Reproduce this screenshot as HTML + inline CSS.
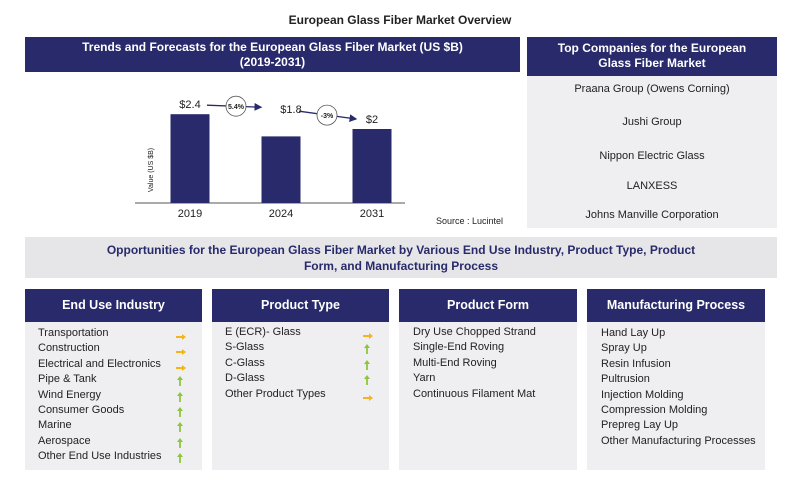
<!DOCTYPE html>
<html><head><meta charset="utf-8"><style>
body{margin:0;width:800px;height:493px;background:#fff;font-family:"Liberation Sans",sans-serif;position:relative;overflow:hidden}
.a{position:absolute}
.hd{background:#282a6b;color:#fff;font-weight:bold;text-align:center;box-sizing:border-box}
.gr{background:#efeff2}
.it{position:absolute;font-size:11px;color:#222;line-height:15.4px}
.ar{position:absolute}
</style></head><body>
<div class="a" style="left:0;width:800px;top:13px;text-align:center;font-size:12px;font-weight:bold;color:#222">European Glass Fiber Market Overview</div>

<div class="a hd" style="left:25px;top:37px;width:495px;height:35px;font-size:12px;padding-top:3px;line-height:15px">Trends and Forecasts for the European Glass Fiber Market (US $B)<br>(2019-2031)</div>

<svg class="a" id="chart" style="left:0;top:0" width="520" height="235"></svg>
<div class="a" style="left:436px;top:216px;font-size:9px;color:#222">Source : Lucintel</div>

<div class="a gr" style="left:527px;top:37px;width:250px;height:191px"></div>
<div class="a hd" style="left:527px;top:37px;width:250px;height:39px;font-size:12px;padding-top:4px;line-height:15px">Top Companies for the European<br>Glass Fiber Market</div>
<div class="a" style="left:527px;width:250px;top:83px;text-align:center;font-size:11px;color:#222">
<div style="height:33px">Praana Group (Owens Corning)</div>
<div style="height:34px">Jushi Group</div>
<div style="height:30px">Nippon Electric Glass</div>
<div style="height:29px">LANXESS</div>
<div>Johns Manville Corporation</div>
</div>

<div class="a gr" style="left:25px;top:237px;width:752px;height:41px;background:#e6e6e9;text-align:center;font-size:12px;font-weight:bold;color:#282a6b;line-height:16px;padding-top:5px;box-sizing:border-box">Opportunities for the European Glass Fiber Market by Various End Use Industry, Product Type, Product<br>Form, and Manufacturing Process</div>

<div class="a gr" style="left:25px;top:289px;width:177px;height:181px"></div>
<div class="a hd" style="left:25px;top:289px;width:177px;height:33px;font-size:12.5px;line-height:33px">End Use Industry</div>
<div class="a gr" style="left:212px;top:289px;width:177px;height:181px"></div>
<div class="a hd" style="left:212px;top:289px;width:177px;height:33px;font-size:12.5px;line-height:33px">Product Type</div>
<div class="a gr" style="left:399px;top:289px;width:178px;height:181px"></div>
<div class="a hd" style="left:399px;top:289px;width:178px;height:33px;font-size:12.5px;line-height:33px">Product Form</div>
<div class="a gr" style="left:587px;top:289px;width:178px;height:181px"></div>
<div class="a hd" style="left:587px;top:289px;width:178px;height:33px;font-size:12.5px;line-height:33px">Manufacturing Process</div>

<div id="lists"></div>

<script>
const years=["2019","2024","2031"];
const values=[2.4,1.8,2.0];
const valueLabels=["$2.4","$1.8","$2"];
const cagrLabels=["5.4%","-3%"];

const svg=document.getElementById('chart');
const NS='http://www.w3.org/2000/svg';
const base=203, xs=[190,281,372], bw=39;
function y(v){return base-v*37;}
function mk(t,a){const e=document.createElementNS(NS,t);for(const k in a)e.setAttribute(k,a[k]);svg.appendChild(e);return e;}
mk('defs',{}).innerHTML='<marker id="ah" markerWidth="6" markerHeight="6" refX="5" refY="3" orient="auto"><path d="M0,0L6,3L0,6z" fill="#282a6b"/></marker>';
let ax=mk('line',{x1:135,y1:base,x2:405,y2:base,stroke:'#555','stroke-width':1});


let yt=mk('text',{x:0,y:0,'font-size':7,fill:'#222','text-anchor':'middle',transform:'translate(153,170) rotate(-90)'});
yt.textContent='Value (US $B)';


const tops=[];
years.forEach((yr,i)=>{
  const t=y(values[i]);tops.push(t);
  let r=mk('rect',{x:xs[i]-bw/2,y:t,width:bw,height:base-t,fill:'#282a6b'});
  
  
  let l=mk('text',{x:xs[i],y:base+14,'font-size':11,fill:'#222','text-anchor':'middle'});
  l.textContent=yr;
  
  
});
let v0=mk('text',{x:xs[0],y:tops[0]-6,'font-size':11,fill:'#222','text-anchor':'middle'});v0.textContent=valueLabels[0];


let v1=mk('text',{x:xs[1]+10,y:tops[0]-1,'font-size':11,fill:'#222','text-anchor':'middle'});v1.textContent=valueLabels[1];


let v2=mk('text',{x:xs[2],y:tops[2]-6,'font-size':11,fill:'#222','text-anchor':'middle'});v2.textContent=valueLabels[2];


let a1y=tops[0]-9;
let a1=mk('line',{x1:xs[0]+17,y1:a1y,x2:xs[1]-20,y2:a1y+2,stroke:'#282a6b','stroke-width':1.3,'marker-end':'url(#ah)'});


mk('circle',{cx:236,cy:a1y+1,r:10,fill:'#fff',stroke:'#555','stroke-width':0.8});
let c1=mk('text',{x:236,y:a1y+4,'font-size':7,'font-weight':'bold',fill:'#222','text-anchor':'middle'});c1.textContent=cagrLabels[0];


const a2y1=tops[0]-3, a2y2=tops[2]-10;
let a2=mk('line',{x1:xs[1]+18,y1:a2y1,x2:xs[2]-16,y2:a2y2,stroke:'#282a6b','stroke-width':1.3,'marker-end':'url(#ah)'});


mk('circle',{cx:327,cy:(a2y1+a2y2)/2,r:10,fill:'#fff',stroke:'#555','stroke-width':0.8});
let c2=mk('text',{x:327,y:(a2y1+a2y2)/2+3,'font-size':7,'font-weight':'bold',fill:'#222','text-anchor':'middle'});c2.textContent=cagrLabels[1];



const cols=[
 {x:38,ax:175,items:[["Transportation","o"],["Construction","o"],["Electrical and Electronics","o"],["Pipe & Tank","g"],["Wind Energy","g"],["Consumer Goods","g"],["Marine","g"],["Aerospace","g"],["Other End Use Industries","g"]],top:326},
 {x:225,ax:362,items:[["E (ECR)- Glass","o"],["S-Glass","g"],["C-Glass","g"],["D-Glass","g"],["Other Product Types","o"]],top:325},
 {x:413,items:[["Dry Use Chopped Strand"],["Single-End Roving"],["Multi-End Roving"],["Yarn"],["Continuous Filament Mat"]],top:325},
 {x:601,items:[["Hand Lay Up"],["Spray Up"],["Resin Infusion"],["Pultrusion"],["Injection Molding"],["Compression Molding"],["Prepreg Lay Up"],["Other Manufacturing Processes"]],top:326}
];
const L=document.getElementById('lists');
cols.forEach(c=>{c.items.forEach((it,i)=>{
  const d=document.createElement('div');d.className='it';
  d.style.left=c.x+'px';d.style.top=(c.top+i*15.4)+'px';d.textContent=it[0];
  
  
  L.appendChild(d);
  if(it[1]){const a=document.createElement('div');a.className='ar';
    a.style.left=c.ax+'px';a.style.top=(c.top+i*15.4+(it[1]=='o'?2:2))+'px';
    a.innerHTML=it[1]=='o'
      ?'<svg width="12" height="8"><path d="M1,4H8" stroke="#f2b51c" stroke-width="2"/><path d="M7,1L11,4L7,7z" fill="#f2b51c"/></svg>'
      :'<svg width="10" height="12"><path d="M5,11V4" stroke="#8cc63f" stroke-width="1.8"/><path d="M2,5L5,1L8,5z" fill="#8cc63f"/></svg>';
    
    
    L.appendChild(a);}
});});
</script>
</body></html>
